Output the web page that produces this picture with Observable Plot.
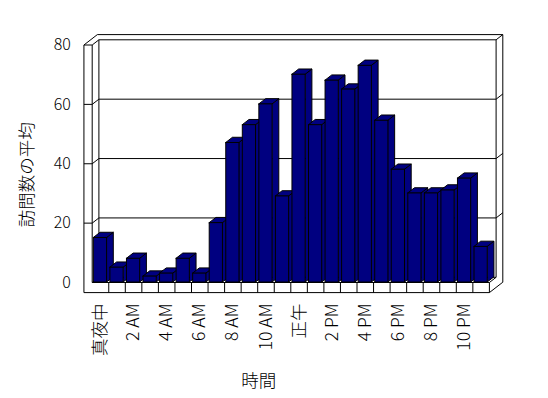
<!DOCTYPE html>
<html><head><meta charset="utf-8">
<script src="https://cdn.jsdelivr.net/npm/d3@7"></script>
<script src="https://cdn.jsdelivr.net/npm/@observablehq/plot@0.6"></script>
<style>html,body{margin:0;padding:0;background:#fff;}</style>
</head><body><div id="chart"></div>
<script>
// ---- data ----
const hours = d3.range(24);
const visits = [15, 5, 8, 2, 3, 8, 3, 20, 47, 53, 60, 29, 70, 53, 68, 65, 73, 54.5, 38, 30, 30, 31, 35, 12];
const tickHours = [0, 2, 4, 6, 8, 10, 12, 14, 16, 18, 20, 22];
const tickLabels = ["真夜中", "2 AM", "4 AM", "6 AM", "8 AM", "10 AM", "正午", "2 PM", "4 PM", "6 PM", "8 PM", "10 PM"];
const yTicks = [0, 20, 40, 60, 80];
const gridValues = [20, 40, 60];
const yTitle = "訪問数の平均";
const xTitle = "時間";

// ---- 3D frame geometry (data units) ----
const X0 = -0.5, X1 = 23.5, XW = -1;   // inner wall, right end, outer wall
const Y0 = 0, Y1 = 80, YB = -3.4;      // floor top, top, floor bottom
const DX = 0.405, DY = 1.75;           // depth offset per depth unit
const HW = 0.4;                         // bar half width
const P = (x, y, z) => ({x: x + z * DX, y: y + z * DY});
const seg = ([a, b]) => { const p = P(...a), q = P(...b); return {x1: p.x, y1: p.y, x2: q.x, y2: q.y}; };

const wallSegs = [
  [[XW, YB, 0], [XW, Y1, 0]],
  [[X0, Y0, 0], [X0, Y1, 0]],
  [[XW, Y1, 0], [X0, Y1, 0]],
  [[XW, Y1, 0], [XW, Y1, 2]],
  [[XW, Y1, 2], [X1, Y1, 2]],
  [[X1, Y1, 2], [X1, Y1, 1]],
  [[X0, Y1, 0], [X0, Y1, 1]],
  [[X0, Y1, 1], [X1, Y1, 1]],
  [[X0, Y0, 1], [X0, Y1, 1]],
  [[X1, Y0, 1], [X1, Y1, 1]],
  [[X0, Y0, 1], [X1, Y0, 1]],
  [[X0, Y0, 0], [X0, Y0, 1]],
  [[X1, Y1, 2], [X1, YB, 2]],
  [[X1, YB, 2], [X1, YB, 0]],
  [[X1, Y0, 0], [X1, Y0, 1]],
  [[X0, Y0, 0], [X1, Y0, 0]],
  [[XW, YB, 0], [X1, YB, 0]],
  [[X1, YB, 0], [X1, Y0, 0]],
  ...d3.range(1, 24).map(k => [[k - 0.5, Y0, 0], [k - 0.5, YB, 0]])
].map(seg);

const gridSegs = gridValues.flatMap(v => [
  [[XW, v, 0], [X0, v, 0]],
  [[X0, v, 0], [X0, v, 1]],
  [[X0, v, 1], [X1, v, 1]],
  [[X1, v, 1], [X1, v, 2]]
]).map(seg);

const barFront = hours.map(i => ({x1: i - HW, x2: i + HW, y: visits[i]}));
const barSide = hours.flatMap(i => [
  {id: i, x: i + HW, y1: 0, y2: visits[i]},
  {id: i, x: i + HW + DX, y1: DY, y2: visits[i] + DY}
]);
const barTop = hours.flatMap(i => [
  {id: i, y: visits[i], x1: i - HW, x2: i + HW},
  {id: i, y: visits[i] + DY, x1: i - HW + DX, x2: i + HW + DX}
]);
const xTickData = tickHours.map((h, i) => ({h, label: tickLabels[i]}));

const navy = "#000080";
const font = "'Noto Sans CJK JP', 'Noto Sans', sans-serif";

const chart = Plot.plot({
  width: 548,
  height: 398,
  marginLeft: 91.7,
  marginRight: 59.1,
  marginTop: 44.5,
  marginBottom: 116,
  style: {background: "#fff", color: "#000", fontFamily: font, fontSize: "16px", fontWeight: 300, overflow: "visible"},
  x: {domain: [X0, X1], axis: null},
  y: {domain: [Y0, Y1], axis: null},
  marks: [
    Plot.link(wallSegs, {x1: "x1", y1: "y1", x2: "x2", y2: "y2", stroke: "#000", strokeWidth: 1}),
    Plot.link(gridSegs, {x1: "x1", y1: "y1", x2: "x2", y2: "y2", stroke: "#000", strokeWidth: 1}),
    Plot.areaY(barSide, {x: "x", y1: "y1", y2: "y2", z: "id", fill: navy, stroke: "#000", strokeWidth: 1}),
    Plot.areaX(barTop, {y: "y", x1: "x1", x2: "x2", z: "id", fill: navy, stroke: "#000", strokeWidth: 1}),
    Plot.rect(barFront, {x1: "x1", x2: "x2", y1: 0, y2: "y", fill: navy, stroke: "#000", strokeWidth: 1}),
    Plot.text(yTicks, {x: XW, y: d => d, text: d => String(d), textAnchor: "end", dx: -13, fontSize: 16}),
    Plot.text(xTickData, {x: "h", y: YB, text: "label", rotate: -90, textAnchor: "end", dy: 11, fontSize: 17.5}),
    Plot.text([yTitle], {frameAnchor: "left", text: d => d, rotate: -90, textAnchor: "middle", lineAnchor: "middle", dx: -65, dy: 11, fontSize: 17.5}),
    Plot.text([xTitle], {frameAnchor: "bottom", text: d => d, textAnchor: "middle", lineAnchor: "middle", dx: -32, dy: 98.5, fontSize: 17.5})
  ]
});
document.getElementById("chart").appendChild(chart);
</script>
</body></html>
